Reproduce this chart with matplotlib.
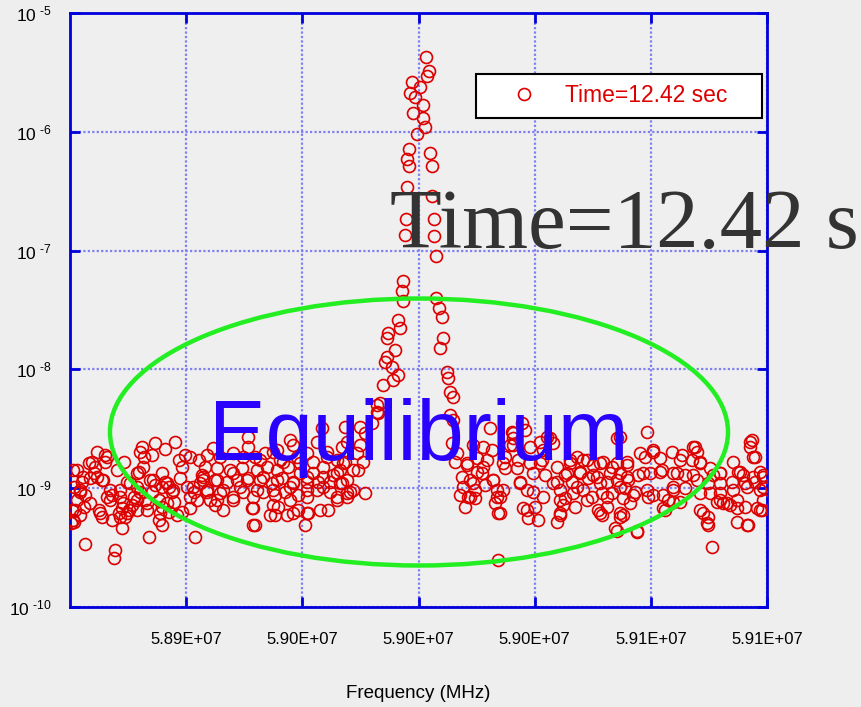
import numpy as np
import matplotlib
matplotlib.use('Agg')
import matplotlib.pyplot as plt
from matplotlib.patches import Ellipse
from matplotlib.ticker import FuncFormatter, NullLocator

# (frequency in MHz, amplitude in units of 1e-9)
band_left = [
    (58.9162, 2.44), (58.9127, 2.13), (58.9093, 2.39), (58.9048, 2.21), (58.9041, 2.01),
    (58.9055, 1.82), (58.9082, 1.90), (58.8893, 2.01), (58.8921, 1.90), (58.8865, 1.62),
    (58.8886, 1.50), (58.8921, 1.66), (58.8824, 1.42), (58.8883, 1.34), (58.8869, 1.21),
    (58.8910, 1.17), (58.8841, 1.12), (58.8814, 1.02), (58.8834, 0.925), (58.8852, 0.87),
    (58.8824, 0.79), (58.8848, 0.69), (58.8817, 0.65), (58.8834, 0.59), (58.8814, 0.52),
    (58.8900, 0.65), (58.8910, 0.57), (58.8945, 0.87), (58.8938, 0.79), (58.8972, 0.84),
    (58.8962, 1.42), (58.8986, 1.66), (58.8996, 1.12), (58.8979, 0.68), (58.8969, 0.62),
    (58.8945, 0.54), (58.8989, 0.57), (58.8979, 0.46), (58.9003, 0.65), (58.9013, 0.72),
    (58.9020, 0.84), (58.9038, 1.36), (58.9031, 1.02), (58.9041, 0.925), (58.9058, 0.79),
    (58.9065, 0.65), (58.9075, 1.17), (58.9093, 1.06), (58.9082, 0.925), (58.9117, 1.34),
    (58.9117, 1.02), (58.9127, 1.12), (58.9141, 1.02), (58.9151, 0.925), (58.9106, 0.79),
    (58.9117, 0.69), (58.9106, 0.54), (58.9117, 0.49), (58.9141, 0.63), (58.9168, 0.59),
    (58.9158, 0.76), (58.9179, 1.21), (58.9175, 1.72), (58.9196, 1.90), (58.9213, 1.82),
    (58.9186, 1.50), (58.9203, 1.02), (58.9213, 0.84), (58.9227, 0.925), (58.9213, 0.68),
    (58.9186, 0.63), (58.9230, 0.39), (58.9072, 0.39), (58.8852, 0.34), (58.8955, 0.30),
    (58.8952, 0.26), (58.9244, 1.72), (58.9255, 1.29), (58.9248, 1.10), (58.9237, 0.79),
]

band_left2 = [
    (58.8810, 1.42), (58.8876, 1.66), (58.8927, 1.82), (58.8845, 1.24), (58.8893, 1.24),
    (58.8914, 1.17), (58.8834, 0.96), (58.8938, 0.96), (58.8972, 0.96), (58.9007, 1.10),
    (58.9031, 1.34), (58.9051, 1.50), (58.9086, 1.17), (58.9134, 1.10), (58.9155, 0.96),
    (58.8869, 0.748), (58.8927, 0.84), (58.8982, 0.748), (58.9031, 0.79), (58.9065, 0.748),
    (58.9134, 0.748), (58.8903, 0.62), (58.8972, 0.57), (58.8996, 0.62), (58.9031, 0.65),
    (58.9110, 0.62), (58.8807, 0.65), (58.8810, 0.54), (58.8802, 0.51),
]

band_mid = [
    (58.9413, 2.69), (58.9413, 2.21), (58.9558, 2.54), (58.9568, 2.30), (58.9668, 3.20),
    (58.9650, 2.44), (58.9292, 2.17), (58.9272, 1.90), (58.9317, 1.82), (58.9361, 1.97),
    (58.9396, 1.82), (58.9437, 1.82), (58.9471, 1.97), (58.9513, 2.09), (58.9533, 1.66),
    (58.9582, 1.82), (58.9616, 1.97), (58.9637, 1.66), (58.9685, 2.01), (58.9719, 1.72),
    (58.9737, 2.21), (58.9265, 1.50), (58.9306, 1.47), (58.9351, 1.42), (58.9392, 1.47),
    (58.9444, 1.42), (58.9478, 1.50), (58.9513, 1.42), (58.9551, 1.50), (58.9592, 1.34),
    (58.9637, 1.34), (58.9671, 1.50), (58.9706, 1.29), (58.9730, 1.42), (58.9258, 1.17),
    (58.9299, 1.17), (58.9341, 1.12), (58.9375, 1.17), (58.9413, 1.21), (58.9454, 1.17),
    (58.9496, 1.10), (58.9530, 1.21), (58.9568, 1.12), (58.9616, 1.12), (58.9654, 1.12),
    (58.9695, 1.12), (58.9737, 1.10), (58.9272, 0.925), (58.9317, 0.91), (58.9361, 0.84),
    (58.9396, 0.925), (58.9430, 0.84), (58.9465, 0.925), (58.9506, 0.87), (58.9540, 0.925),
    (58.9585, 0.87), (58.9650, 0.96), (58.9695, 0.925), (58.9719, 0.84), (58.9282, 0.79),
    (58.9299, 0.72), (58.9327, 0.65), (58.9427, 0.68), (58.9516, 0.69), (58.9506, 0.59),
    (58.9547, 0.59), (58.9585, 0.65), (58.9620, 0.62), (58.9688, 0.65), (58.9719, 0.79),
    (58.9437, 0.49), (58.9609, 0.49),
    (58.9857, 5.00), (58.9861, 4.28), (58.9840, 3.52), (58.9799, 3.26), (58.9816, 2.90),
    (58.9747, 3.26), (58.9754, 2.44), (58.9799, 2.30), (58.9788, 1.97), (58.9809, 1.66),
    (58.9792, 1.42), (58.9747, 1.66), (58.9754, 1.17), (58.9764, 0.925), (58.9754, 0.84),
    (58.9816, 0.91),
]

band_mid2 = [
    (58.9499, 2.01), (58.9454, 1.72), (58.9523, 1.72), (58.9592, 1.62), (58.9685, 1.82),
    (58.9740, 1.62), (58.9774, 1.42), (58.9719, 1.34), (58.9671, 1.24), (58.9616, 1.24),
    (58.9568, 1.10), (58.9513, 1.17), (58.9465, 1.24), (58.9409, 1.17), (58.9361, 1.34),
    (58.9306, 1.17), (58.9258, 1.24), (58.9224, 1.02), (58.9272, 0.96), (58.9327, 0.96),
    (58.9385, 1.02), (58.9444, 0.96), (58.9499, 0.96), (58.9558, 1.02), (58.9616, 0.96),
    (58.9671, 1.02), (58.9730, 1.10), (58.9774, 0.96), (58.9306, 0.79), (58.9361, 0.79),
    (58.9430, 0.68), (58.9499, 0.72), (58.9558, 0.79), (58.9616, 0.84), (58.9661, 0.65),
    (58.9754, 0.91), (58.9489, 0.59), (58.9568, 0.62), (58.9430, 0.49), (58.9616, 0.62),
]

band_right = [
    (59.0119, 3.74), (59.0115, 2.39), (59.0133, 1.97), (59.0126, 1.66), (59.0167, 1.56),
    (59.0201, 1.36), (59.0150, 1.24), (59.0177, 1.17), (59.0153, 1.02), (59.0194, 0.96),
    (59.0143, 0.87), (59.0171, 0.84), (59.0194, 0.82), (59.0160, 0.69), (59.0188, 2.30),
    (59.0201, 1.79), (59.0218, 1.34),
    (59.0356, 3.52), (59.0322, 2.96), (59.0246, 3.20), (59.0325, 2.64), (59.0325, 2.30),
    (59.0222, 2.21), (59.0253, 2.09), (59.0384, 2.21), (59.0418, 2.44), (59.0452, 2.64),
    (59.0429, 2.09), (59.0236, 1.72), (59.0298, 1.82), (59.0343, 1.72), (59.0384, 1.62),
    (59.0425, 1.72), (59.0298, 1.47), (59.0339, 1.47), (59.0394, 1.34), (59.0435, 1.29),
    (59.0256, 1.17), (59.0229, 1.06), (59.0270, 0.96), (59.0291, 0.96), (59.0281, 0.84),
    (59.0263, 0.748), (59.0274, 0.62), (59.0349, 1.12), (59.0394, 0.925), (59.0360, 0.68),
    (59.0401, 0.69), (59.0377, 0.56), (59.0411, 0.54), (59.0476, 1.12), (59.0504, 1.29),
    (59.0522, 1.72), (59.0546, 1.82), (59.0566, 1.72), (59.0601, 1.56), (59.0635, 1.66),
    (59.0666, 1.50), (59.0694, 2.69), (59.0487, 0.96), (59.0529, 1.12), (59.0556, 1.34),
    (59.0584, 1.21), (59.0615, 1.24), (59.0649, 1.12), (59.0684, 1.17), (59.0504, 0.82),
    (59.0532, 0.91), (59.0566, 0.96), (59.0597, 0.84), (59.0632, 0.91), (59.0666, 0.91),
    (59.0497, 0.72), (59.0539, 0.69), (59.0487, 0.59), (59.0476, 0.52), (59.0618, 0.65),
    (59.0649, 0.69), (59.0632, 0.59), (59.0694, 0.62), (59.0677, 0.46), (59.0274, 0.25),
    (59.0787, 2.96), (59.1149, 2.54), (59.1142, 2.21), (59.1159, 1.82), (59.1083, 1.66),
    (59.0873, 2.01), (59.0952, 2.21), (59.0959, 2.01), (59.0907, 1.90), (59.0942, 1.72),
    (59.0763, 1.97), (59.0807, 2.01), (59.0780, 1.82), (59.0718, 1.66), (59.0969, 1.62),
    (59.1004, 1.47), (59.1014, 1.29), (59.1038, 1.34), (59.1100, 1.36), (59.1118, 1.29),
    (59.1176, 1.36), (59.1187, 1.29), (59.0694, 1.34), (59.0721, 1.17), (59.0756, 1.29),
    (59.0797, 1.34), (59.0838, 1.42), (59.0876, 1.34), (59.0918, 1.29), (59.0959, 1.17),
    (59.0997, 1.10), (59.1038, 1.10), (59.1080, 1.12), (59.1124, 1.10), (59.1159, 1.12),
    (59.1187, 1.02), (59.0711, 1.00), (59.0745, 0.925), (59.0790, 0.84), (59.0842, 0.87),
    (59.0876, 0.96), (59.0918, 1.00), (59.1004, 0.91), (59.1028, 0.76), (59.1049, 0.748),
    (59.1073, 0.72), (59.1097, 0.79), (59.1124, 0.69), (59.1166, 0.68), (59.1183, 0.65),
    (59.0728, 0.748), (59.0859, 0.79), (59.0900, 0.76), (59.0849, 0.65), (59.0969, 0.65),
    (59.0997, 0.57), (59.0997, 0.49), (59.1097, 0.52), (59.1135, 0.49), (59.1187, 0.79),
    (59.0704, 0.59), (59.0752, 0.43), (59.1011, 0.32), (59.0704, 0.82),
]

band_right2 = [
    (59.0325, 2.90), (59.0367, 3.08), (59.0315, 2.30), (59.0442, 2.69), (59.0463, 2.39),
    (59.0684, 2.64), (59.0945, 2.21), (59.1142, 2.44), (59.1152, 1.82), (59.0807, 2.09),
    (59.0832, 1.79), (59.0900, 1.72), (59.0969, 1.66), (59.0167, 1.62), (59.0222, 1.50),
    (59.0291, 1.62), (59.0418, 1.62), (59.0476, 1.50), (59.0522, 1.62), (59.0580, 1.72),
    (59.0625, 1.62), (59.0684, 1.62), (59.0718, 1.56), (59.0511, 1.34), (59.0556, 1.36),
    (59.0601, 1.29), (59.0659, 1.34), (59.0718, 1.24), (59.0773, 1.34), (59.0832, 1.36),
    (59.0890, 1.34), (59.0945, 1.29), (59.1038, 1.34), (59.1107, 1.36), (59.1152, 1.24),
    (59.1187, 1.24), (59.0188, 1.10), (59.0256, 1.17), (59.0349, 1.10), (59.0463, 1.10),
    (59.0546, 1.02), (59.0625, 1.10), (59.0694, 1.02), (59.0787, 0.96), (59.0876, 1.02),
    (59.0969, 0.91), (59.1038, 0.91), (59.1083, 0.96), (59.1131, 1.02), (59.1176, 0.96),
    (59.0177, 0.84), (59.0270, 0.84), (59.0374, 0.96), (59.0429, 0.84), (59.0487, 0.79),
    (59.0580, 0.79), (59.0649, 0.84), (59.0739, 0.87), (59.0807, 0.87), (59.0876, 0.76),
    (59.1038, 0.79), (59.1062, 0.748), (59.1097, 0.68), (59.1176, 0.65), (59.0281, 0.62),
    (59.0374, 0.65), (59.0487, 0.62), (59.0625, 0.62), (59.0694, 0.57), (59.0842, 0.68),
    (59.0980, 0.62), (59.0994, 0.51), (59.1131, 0.49), (59.0684, 0.44), (59.0752, 0.44),
]

peak = [
    (59.0026, 4246), (59.0036, 3236), (59.0029, 2938), (58.9978, 2616), (59.0005, 2373),
    (58.9971, 2113), (58.9988, 1955), (59.0015, 1675), (58.9981, 1435), (59.0015, 1301),
    (59.0022, 1094), (58.9995, 955), (58.9967, 714), (59.0040, 661), (58.9960, 588),
    (58.9967, 513), (59.0047, 513), (58.9960, 342), (59.0047, 287), (58.9957, 184),
    (59.0053, 184), (58.9953, 135), (59.0053, 132), (59.0060, 89.7), (58.9947, 55.3),
    (58.9943, 45.5), (58.9947, 37.5), (59.0060, 39.7), (59.0071, 32.7), (59.0081, 27.5),
    (58.9929, 25.9), (58.9936, 22.2), (58.9895, 20.2), (58.9892, 18.3), (59.0084, 18.3),
    (59.0074, 15.1), (58.9919, 14.5), (58.9892, 12.7), (58.9885, 11.5), (58.9909, 10.4),
    (58.9929, 8.94), (58.9912, 8.11), (58.9878, 7.36), (59.0098, 9.47), (59.0102, 8.43),
    (59.0108, 6.43), (59.0119, 5.83), (58.9867, 5.19), (58.9857, 4.36), (59.0108, 4.12),
]

x_ticks = [58.92e6, 58.96e6, 59.00e6, 59.04e6, 59.08e6, 59.12e6]
y_ticks = [1e-10, 1e-9, 1e-8, 1e-7, 1e-6, 1e-5]
y_exps = [10, 9, 8, 7, 6, 5]
y_labels = ['$\\mathregular{10^{\\ \u2010%d}}$' % e for e in y_exps]

pts = np.array(band_left + band_left2 + band_mid + band_mid2
               + band_right + band_right2 + peak)
freq = pts[:, 0] * 1e6
amp = pts[:, 1] * 1e-9

plt.rcParams['font.family'] = ['Liberation Sans', 'DejaVu Sans']
blue = '#0000dd'

fig = plt.figure(figsize=(8.62, 7.07), dpi=100, facecolor='#eeeeee')
ax = fig.add_axes([70 / 862, 1 - 607 / 707, 697 / 862, 594 / 707])
ax.set_facecolor('#efefef')

ax.plot(freq, amp, linestyle='none', marker='o', mfc='none', mec='#dd0000',
        ms=8.6, mew=1.2, label='Time=12.42 sec', zorder=3)

ax.set_yscale('log')
ax.set_xlim(58.88e6, 59.12e6)
ax.set_ylim(1e-10, 1e-5)
ax.set_xticks(x_ticks)
ax.xaxis.set_major_formatter(FuncFormatter(lambda v, p: '%.2E' % v))
ax.set_yticks(y_ticks)
ax.set_yticklabels(y_labels)
ax.yaxis.set_minor_locator(NullLocator())

ax.grid(True, color='#7f7ff0', linestyle=(0, (1, 1)), linewidth=1.6, zorder=1)
ax.set_axisbelow(True)
for s in ax.spines.values():
    s.set_color(blue)
    s.set_linewidth(2)
ax.tick_params(direction='in', top=True, right=True, length=7, width=2, color=blue)
ax.tick_params(axis='x', labelsize=12, pad=18)
ax.tick_params(axis='y', labelsize=12.5, pad=13)
ax.set_xlabel('Frequency (MHz)', fontsize=13.5, labelpad=27)

ell = Ellipse((0.5007, 0.2946), 0.8867, 0.4495, transform=ax.transAxes, fill=False,
              edgecolor='#22ee22', linewidth=3.2, zorder=4, clip_on=False)
ax.add_patch(ell)

ax.text(0.5007, 0.2475, 'Equilibrium', transform=ax.transAxes, ha='center',
        va='baseline', fontsize=61, color='#2a00ff', zorder=5)
fig.text(390 / 862, 1 - 248 / 707, 'Time=12.42 s', family='Liberation Serif',
         fontsize=61, color='#333333', va='baseline', zorder=2)

leg = ax.legend(loc='upper left', bbox_to_anchor=(0.5825, 0.80, 0.4103, 0.0973),
                mode='expand', borderaxespad=0, borderpad=0.45, handlelength=3.3,
                handletextpad=0.15, fontsize=16.5, fancybox=False, framealpha=1,
                edgecolor='black')
leg.get_frame().set_linewidth(1.5)
for t in leg.get_texts():
    t.set_color('#dd0000')
leg.set_zorder(6)

fig.savefig('out.png', dpi=100, facecolor=fig.get_facecolor())
